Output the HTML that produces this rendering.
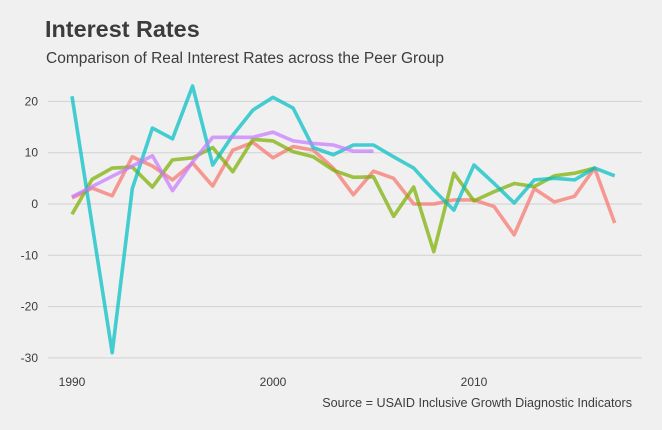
<!DOCTYPE html>
<html><head><meta charset="utf-8"><style>
body{margin:0;background:#f0f0f0;}
svg{display:block;font-family:"Liberation Sans",sans-serif;}
</style></head><body>
<svg width="662" height="430">
<rect width="662" height="430" fill="#f0f0f0"/>
<text x="45" y="37" font-size="23.4" font-weight="bold" fill="#3c3c3c">Interest Rates</text>
<text x="46" y="63" font-size="15.5" fill="#3c3c3c">Comparison of Real Interest Rates across the Peer Group</text>
<g id="grid"></g><g id="yt"></g><g id="xt"></g><g id="lines"></g>
<text x="632" y="407" font-size="12.6" text-anchor="end" fill="#3c3c3c">Source = USAID Inclusive Growth Diagnostic Indicators</text>
</svg>
<script>
const yTicks=[20,10,0,-10,-20,-30];
const xTicks=[1990,2000,2010];
const years=[1990,1991,1992,1993,1994,1995,1996,1997,1998,1999,2000,2001,2002,2003,2004,2005,2006,2007,2008,2009,2010,2011,2012,2013,2014,2015,2016,2017];
const redVals=[1.2,3.1,1.6,9.2,7.4,4.7,8,3.5,10.5,12,9,11.2,10.5,7,1.8,6.4,5,0,0,0.8,0.8,-0.5,-6,3,0.4,1.5,7,-3.7];
const greenVals=[-2,4.8,7,7.2,3.3,8.6,9,11,6.3,12.6,12.3,10.2,9.2,6.6,5.2,5.3,-2.4,3.3,-9.3,6,0.6,2.4,4,3.4,5.5,6,7,null];
const cyanVals=[21,-4,-29,3,14.8,12.7,23,7.6,13.4,18.3,20.8,18.7,11,9.6,11.5,11.5,9.2,7,2.7,-1.2,7.6,4,0.2,4.7,5,4.7,7,5.5];
const purpleVals=[1.4,3.4,5.4,7.4,9.4,2.6,8.2,13,13,13,14,12.3,11.8,11.5,10.3,10.3,null,null,null,null,null,null,null,null,null,null,null,null];
const NS="http://www.w3.org/2000/svg";
const xs=y=>72+(y-1990)*20.1;
const ys=v=>204-v*5.13;
function mk(t,a,p){const e=document.createElementNS(NS,t);for(const k in a)e.setAttribute(k,a[k]);document.getElementById(p).appendChild(e);return e;}
yTicks.forEach(v=>{
 const l=mk('line',{x1:48,x2:642,y1:ys(v),y2:ys(v),stroke:'#d2d2d2','stroke-width':1},'grid');
 
 
 const t=mk('text',{x:38,y:ys(v)+4,'font-size':12,'text-anchor':'end',fill:'#3c3c3c'},'yt');
 t.textContent=v;
 
 
});
xTicks.forEach(v=>{
 const t=mk('text',{x:xs(v),y:386,'font-size':12,'text-anchor':'middle',fill:'#3c3c3c'},'xt');
 t.textContent=v;
 
 
});
const series=[['red',redVals,'#F8766D'],['green',greenVals,'#7CAE00'],['cyan',cyanVals,'#00BFC4'],['purple',purpleVals,'#C77CFF']];
series.forEach(([n,vals,c])=>{
 let d='';let started=false;
 vals.forEach((v,i)=>{if(v===null){started=false;return;}d+=(started?'L':'M')+xs(years[i])+','+ys(v);started=true;});
 const p=mk('path',{d:d,fill:'none',stroke:c,'stroke-width':3.6,'stroke-opacity':0.72,'stroke-linejoin':'round'},'lines');
 
 
});
</script>
</body></html>
